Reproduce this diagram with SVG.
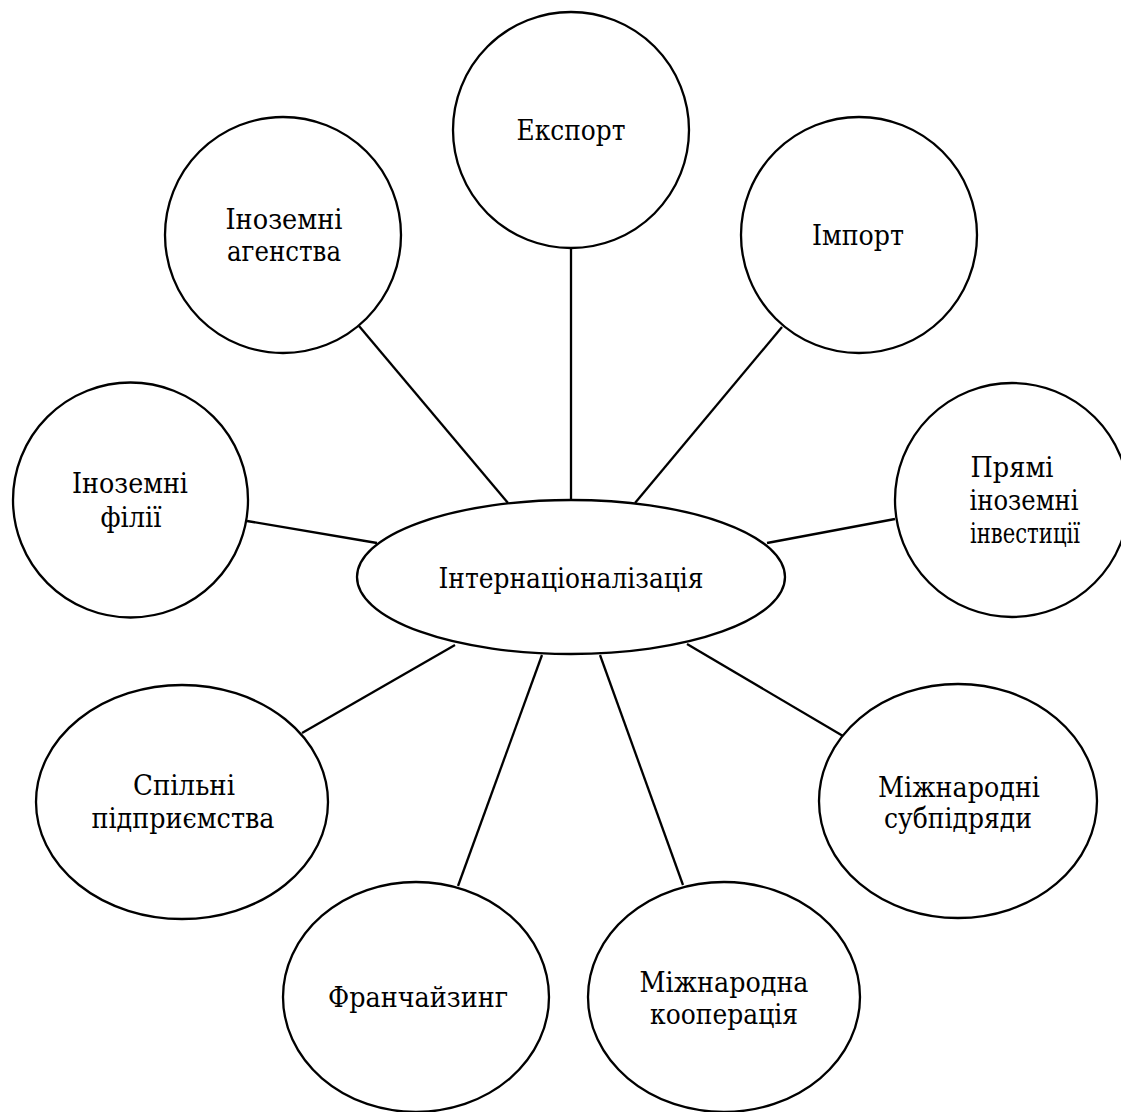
<svg xmlns="http://www.w3.org/2000/svg" width="1121" height="1112" viewBox="0 0 1121 1112">
<style>
.n{fill:#fff;stroke:#000;stroke-width:2.3}
.c line{stroke:#000;stroke-width:2.3}
.t{font-family:'DejaVu Serif',serif;font-size:27px;fill:#000;text-anchor:middle}
</style>
<rect width="1121" height="1112" fill="#fff"/>
<g class="c" id="connectors">
<line x1="571" y1="248" x2="571" y2="500"/>
<line x1="359" y1="326" x2="508" y2="503"/>
<line x1="782" y1="327" x2="635" y2="503"/>
<line x1="247" y1="521" x2="377" y2="543"/>
<line x1="767" y1="543" x2="895" y2="519"/>
<line x1="455" y1="645" x2="302" y2="733"/>
<line x1="542" y1="655" x2="458" y2="886"/>
<line x1="600" y1="655" x2="683" y2="885"/>
<line x1="687" y1="644" x2="843" y2="736"/>
</g>
<g class="t">
<g id="center"><ellipse class="n" cx="571" cy="577" rx="214" ry="77"/><text x="571" y="588" textLength="265" lengthAdjust="spacingAndGlyphs">Інтернаціоналізація</text></g>
<g id="export"><circle class="n" cx="571" cy="130" r="118"/><text x="571" y="140" textLength="109" lengthAdjust="spacingAndGlyphs">Експорт</text></g>
<g id="agencies"><circle class="n" cx="283" cy="235" r="118"/><text x="284" y="229" textLength="117" lengthAdjust="spacingAndGlyphs">Іноземні</text><text x="284" y="261" textLength="114" lengthAdjust="spacingAndGlyphs">агенства</text></g>
<g id="import"><circle class="n" cx="859" cy="235" r="118"/><text x="858" y="245" textLength="92" lengthAdjust="spacingAndGlyphs">Імпорт</text></g>
<g id="branches"><circle class="n" cx="130.5" cy="500" r="117.5"/><text x="130" y="493" textLength="116" lengthAdjust="spacingAndGlyphs">Іноземні</text><text x="131" y="527" textLength="61" lengthAdjust="spacingAndGlyphs">філії</text></g>
<g id="fdi"><circle class="n" cx="1012" cy="500" r="117"/><text x="1012" y="477" textLength="83" lengthAdjust="spacingAndGlyphs">Прямі</text><text x="1024" y="510" textLength="109" lengthAdjust="spacingAndGlyphs">іноземні</text><text x="1025" y="543" textLength="110" lengthAdjust="spacingAndGlyphs">інвестиції</text></g>
<g id="jv"><ellipse class="n" cx="182" cy="802" rx="146" ry="117"/><text x="184" y="795" textLength="102" lengthAdjust="spacingAndGlyphs">Спільні</text><text x="183" y="828" textLength="183" lengthAdjust="spacingAndGlyphs">підприємства</text></g>
<g id="subcontract"><ellipse class="n" cx="958" cy="801" rx="139" ry="117"/><text x="959" y="797" textLength="162" lengthAdjust="spacingAndGlyphs">Міжнародні</text><text x="958" y="828" textLength="148" lengthAdjust="spacingAndGlyphs">субпідряди</text></g>
<g id="franchise"><ellipse class="n" cx="416" cy="997" rx="133" ry="115"/><text x="418" y="1007" textLength="180" lengthAdjust="spacingAndGlyphs">Франчайзинг</text></g>
<g id="cooperation"><ellipse class="n" cx="724" cy="997" rx="136" ry="115"/><text x="724" y="992" textLength="169" lengthAdjust="spacingAndGlyphs">Міжнародна</text><text x="724" y="1024" textLength="148" lengthAdjust="spacingAndGlyphs">кооперація</text></g>
</g>
</svg>
